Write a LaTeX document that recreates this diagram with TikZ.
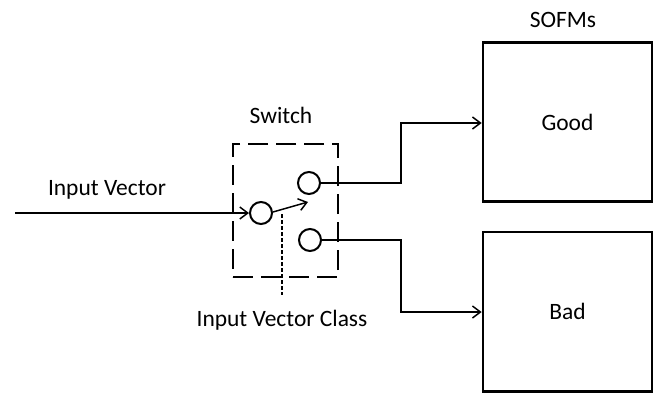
\documentclass[tikz,border=0pt]{standalone}
\usepackage{fontspec}
\setmainfont{Carlito}
\usetikzlibrary{arrows.meta}
\begin{document}
\begin{tikzpicture}[x=0.75pt,y=-0.75pt,
  lbl/.style={font=\fontsize{17.6}{20}\selectfont, inner sep=0pt},
  sofm/.style={draw, line width=2pt, minimum width=126.75pt, minimum height=119.5pt, inner sep=0pt},
  port/.style={circle, draw, line width=1.5pt, minimum size=16.5pt, inner sep=0pt},
  conn/.style={line width=1.1pt, -{Straight Barb[length=6pt,width=9pt]}},
  swbox/.style={draw, line width=2pt, dash pattern=on 15pt off 6pt, minimum width=78.75pt, minimum height=99.75pt, inner sep=0pt}]
\useasboundingbox (0,0) rectangle (654,393);
% SOFM boxes
\node[sofm] (good) at (567.5,122) {};
\node[sofm] (bad) at (567.5,311.5) {};
\node[lbl] at (good.center) {Good};
\node[lbl] at (bad.center) {Bad};
\node[lbl] (sofms) at (563,20) {SOFMs};
% switch
\node[swbox] (sw) at (285.5,210.5) {};
\node[lbl] (swl) at (281,115) {Switch};
\node[port] (in) at (261,213) {};
\node[port] (up) at (309,183) {};
\node[port] (dn) at (310,240) {};
% input
\coordinate (src) at (15,213);
\node[lbl] (inl) at (107,190) {Input Vector};
\draw[conn] (src) -- (in.west |- src);
% switch arm
\coordinate (armend) at (308,202);
\draw[conn] (in.east) ++(0,-1) -- (armend);
% control
\coordinate (ctrltop) at (282,214);
\coordinate (ctrlbot) at (282,295);
\draw[line width=1.1pt, dash pattern=on 3pt off 1.5pt] (ctrltop) -- (ctrlbot);
\node[lbl] (cls) at (282,320) {Input Vector Class};
% outputs
\draw[conn] (up.east) -- (401,183) |- (good.west |- 0,123);
\draw[conn] (dn.east) -- (401,240) |- (bad.west |- 0,312);
\end{tikzpicture}
\end{document}
